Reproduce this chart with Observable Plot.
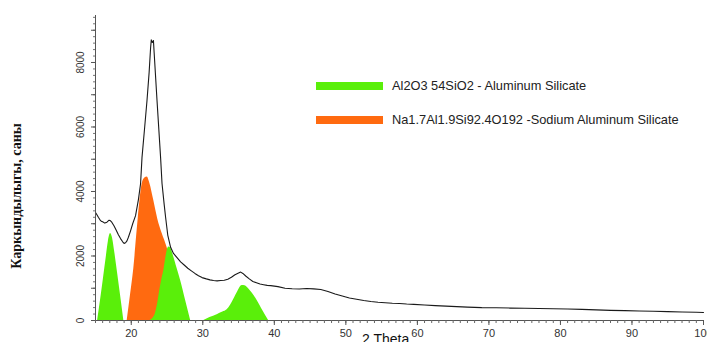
<!DOCTYPE html>
<html>
<head>
<meta charset="utf-8">
<script src="https://cdn.jsdelivr.net/npm/d3@7"></script>
<script src="https://cdn.jsdelivr.net/npm/@observablehq/plot@0.6"></script>
<style>
  html, body { margin: 0; padding: 0; background: #fff; overflow: hidden; }
  #wrap { position: relative; width: 707px; height: 342px; }
  .ytitle { position: absolute; left: 17px; top: 196px; transform: translate(-50%, -50%) rotate(-90deg);
    font: bold 14px "Liberation Serif", "Times New Roman", serif; white-space: nowrap; color: #111; }
  .xtitle { position: absolute; left: 362px; top: 332px; font: 14px "Liberation Sans", Arial, sans-serif; line-height: 1; color: #111; white-space: nowrap; }
  .legend { position: absolute; left: 316px; top: 0; font: 12.8px "Liberation Sans", Arial, sans-serif; color: #222; }
  .row { position: absolute; left: 0; white-space: nowrap; }
  .sw { position: absolute; left: 0; width: 67px; height: 8px; }
  .lt { position: absolute; left: 76px; line-height: 14px; }
</style>
</head>
<body>
<div id="wrap"></div>
<script>
// ---- data ----
const traceTheta = [15.0,15.2,15.4,15.6,15.8,16.0,16.3,16.6,16.9,17.1,17.3,17.6,17.9,18.2,18.5,18.8,19.0,19.2,19.4,19.6,19.9,20.2,20.6,21.0,21.3,21.5,21.85,22.2,22.5,22.7,22.8,22.95,23.1,23.2,23.6,24.1,24.3,24.6,24.8,25.1,25.5,25.9,26.4,26.9,27.4,27.9,28.4,28.9,29.4,29.9,30.5,31.0,31.5,32.0,32.5,33.0,33.5,34.0,34.5,35.0,35.3,35.6,36.0,36.5,37.0,37.5,38.0,38.5,39.0,39.5,40.5,41.5,42.5,43.5,44.5,45.5,46.5,47.5,48.5,49.5,50.5,51.5,52.5,53.5,54.5,55.5,56.5,57.5,58.5,59.5,61,62.5,64,65.5,67,69,71,73,75,77,79,81,83,85,87,89,91,93,95,97,99,100];
const traceCounts = [3350,3280,3200,3130,3080,3060,3020,3050,3110,3090,3040,2930,2800,2660,2540,2440,2390,2410,2470,2580,2780,3000,3250,3750,4240,5050,5930,6820,7700,8450,8700,8620,8680,8300,6820,5050,4250,3600,3200,2650,2270,2080,1950,1820,1720,1620,1540,1460,1390,1330,1290,1260,1240,1230,1240,1250,1280,1340,1420,1470,1500,1460,1380,1290,1210,1170,1130,1110,1090,1080,1050,1000,985,975,990,980,960,900,820,760,700,660,620,590,565,550,535,525,510,500,480,460,445,430,415,400,395,385,380,372,365,355,345,330,315,305,295,285,275,265,255,250];

const orangeTheta = [19.43,19.9,20.35,20.97,21.53,21.9,22.23,22.6,23.15,23.7,24.32,25.0,25.6,26.2,26.8,27.3];
const orangeCounts = [0,800,1600,3150,4240,4420,4450,4250,3720,3150,2700,2270,1700,900,300,0];

const green1Theta = [15.3,15.7,16.1,16.5,16.8,17.1,17.35,17.7,18.1,18.5,18.96];
const green1Counts = [0,620,1280,1950,2450,2700,2580,2100,1450,780,0];

const green2Theta = [22.6,23.0,23.35,23.67,24.0,24.3,24.55,24.8,25.0,25.25,25.5,25.9,26.4,26.9,27.6,28.3];
const green2Counts = [0,60,200,500,950,1300,1550,1900,2150,2280,2250,2000,1620,1240,620,0];

const green3Theta = [30.15,31.0,32.0,32.8,33.4,33.9,34.3,34.9,35.5,35.9,36.2,36.9,37.6,38.4,39.2];
const green3Counts = [0,90,180,260,330,480,640,900,1085,1080,1030,850,620,300,0];

const xTickLabels = [20,30,40,50,60,70,80,90,100];
const yTickLabels = [0,2000,4000,6000,8000];
const legendNames = ["Al2O3 54SiO2 - Aluminum Silicate", "Na1.7Al1.9Si92.4O192 -Sodium Aluminum Silicate"];
const legendColors = ["#5aef0a", "#ff6a10"];
const yTitle = "Каркындылыгы, саны";
const xTitle = "2 Theta";

const zip = (xs, ys) => xs.map((t, i) => ({t, c: ys[i]}));
const trace = zip(traceTheta, traceCounts);
const orange = zip(orangeTheta, orangeCounts);
const green1 = zip(green1Theta, green1Counts);
const green2 = zip(green2Theta, green2Counts);
const green3 = zip(green3Theta, green3Counts);

const xMinor = d3.range(15, 101, 1);
const yMinor = d3.range(0, 9401, 200);
const yMid = d3.range(0, 9001, 1000);
const blank = () => "";

const chart = Plot.plot({
  width: 707, height: 342,
  marginLeft: 95, marginRight: 4, marginTop: 15, marginBottom: 22,
  x: {domain: [15, 100]},
  y: {domain: [0, 9457]},
  style: {fontFamily: "'Liberation Sans', Arial, sans-serif", fontSize: "11px", color: "#333", background: "white"},
  marks: [
    Plot.areaY(orange, {x: "t", y: "c", fill: legendColors[1], curve: "monotone-x"}),
    Plot.areaY(green1, {x: "t", y: "c", fill: legendColors[0], curve: "monotone-x"}),
    Plot.areaY(green2, {x: "t", y: "c", fill: legendColors[0], curve: "monotone-x"}),
    Plot.areaY(green3, {x: "t", y: "c", fill: legendColors[0], curve: "monotone-x"}),
    Plot.line(trace, {x: "t", y: "c", stroke: "#1a1a1a", strokeWidth: 1.1}),
    Plot.ruleX([15], {stroke: "#555"}),
    Plot.ruleY([0], {stroke: "#555"}),
    Plot.axisX({ticks: xMinor, tickSize: 3, tickFormat: blank, label: null, stroke: "#666"}),
    Plot.axisX({ticks: xTickLabels, tickSize: 5, tickPadding: 4, label: null, stroke: "#555", fontSize: 11}),
    Plot.axisY({ticks: yMinor, tickSize: 2, tickFormat: blank, label: null, stroke: "#777"}),
    Plot.axisY({ticks: yMid, tickSize: 4, tickFormat: blank, label: null, stroke: "#555"}),
    Plot.text(yTickLabels, {y: d => d, text: d => String(d), frameAnchor: "left", dx: -15, rotate: -90, textAnchor: "middle", fontSize: 10, fill: "#333"})
  ]
});

const wrap = document.getElementById("wrap");
wrap.appendChild(chart);

const yt = document.createElement("div");
yt.className = "ytitle"; yt.textContent = yTitle; wrap.appendChild(yt);
const xt = document.createElement("div");
xt.className = "xtitle"; xt.textContent = xTitle; wrap.appendChild(xt);

const lg = document.createElement("div");
lg.className = "legend";
const rowTops = [82, 116];
legendNames.forEach((name, i) => {
  const row = document.createElement("div");
  row.className = "row";
  row.style.top = rowTops[i] + "px";
  const sw = document.createElement("div");
  sw.className = "sw"; sw.style.background = legendColors[i]; sw.style.top = "0px";
  const lt = document.createElement("div");
  lt.className = "lt"; lt.textContent = name; lt.style.top = "-3px";
  row.appendChild(sw); row.appendChild(lt);
  lg.appendChild(row);
});
wrap.appendChild(lg);
</script>
</body>
</html>
